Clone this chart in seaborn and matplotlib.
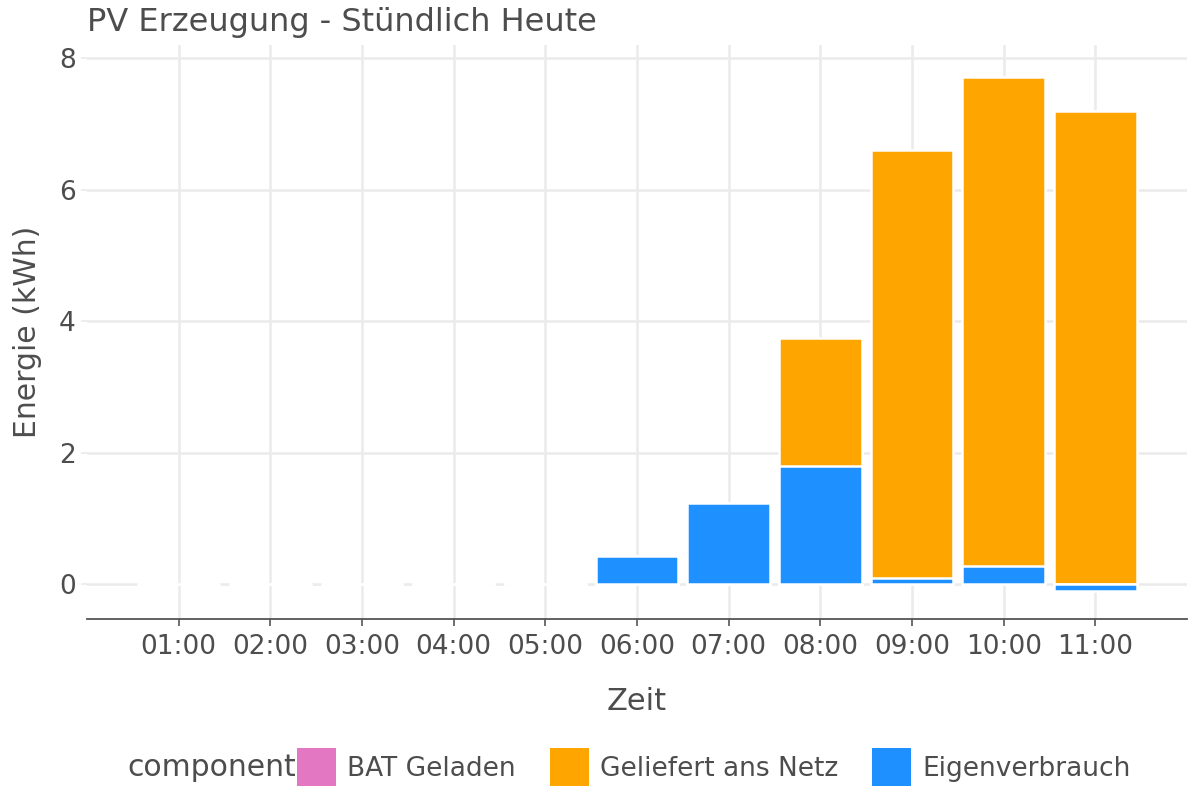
import matplotlib
matplotlib.use("Agg")
import matplotlib.pyplot as plt
import matplotlib.patches as mpatches
import seaborn as sns
import pandas as pd
import numpy as np

hours = ["01:00", "02:00", "03:00", "04:00", "05:00", "06:00",
         "07:00", "08:00", "09:00", "10:00", "11:00"]
bat_geladen = [0, 0, 0, 0, 0, 0, 0, 0, 0, 0, 0]
geliefert = [0, 0, 0, 0, 0, 0, 0, 1.94, 6.52, 7.44, 7.19]
eigenverbrauch = [0, 0, 0, 0, 0, 0.43, 1.24, 1.80, 0.09, 0.27, -0.11]

components = ["BAT Geladen", "Geliefert ans Netz", "Eigenverbrauch"]
colors = {"BAT Geladen": "#E377C2", "Geliefert ans Netz": "#FFA500",
          "Eigenverbrauch": "#1E90FF"}

TXT = "#4D4D4D"

sns.set_theme(style="white")
plt.rcParams['font.family'] = ['DejaVu Sans']

df = pd.DataFrame({"Zeit": hours, "bat": bat_geladen, "gel": geliefert,
                   "eig": eigenverbrauch})
eig_pos = np.clip(np.array(eigenverbrauch), 0, None)
df["top"] = eig_pos + np.array(geliefert)

fig = plt.figure(figsize=(12, 8), dpi=100)
ax = fig.add_axes([87/1200, 1 - 619/800, 1100/1200, (619-45)/800])
ax.set_axisbelow(True)

# stacked: orange total first, then blue segment drawn over its base
sns.barplot(data=df, x="Zeit", y="top", order=hours, color=colors["Geliefert ans Netz"],
            saturation=1, width=0.9, edgecolor="white", linewidth=1.8, ax=ax, zorder=2)
sns.barplot(data=df, x="Zeit", y="eig", order=hours, color=colors["Eigenverbrauch"],
            saturation=1, width=0.9, edgecolor="white", linewidth=1.8, ax=ax, zorder=3)

ax.set_xlim(-1, 11)
ax.set_ylim(-0.53, 8.2)
ax.set_yticks([0, 2, 4, 6, 8])
ax.set_yticklabels(["0", "2", "4", "6", "8"])
ax.grid(True, which="major", axis="both", color="#EBEBEB", linewidth=1.8, zorder=0)
for s in ["left", "right", "top"]:
    ax.spines[s].set_visible(False)
ax.spines["bottom"].set_color("#555555")
ax.spines["bottom"].set_linewidth(1.3)
ax.tick_params(axis="x", colors=TXT, labelsize=19, length=5, width=1.2,
               direction="out", pad=6, color="#555555", bottom=True)
ax.tick_params(axis="y", colors=TXT, labelsize=19, length=4, color="#EBEBEB", pad=4, left=True)
ax.set_xlabel("Zeit", fontsize=22, color=TXT, labelpad=19)
ax.set_ylabel("Energie (kWh)", fontsize=21.5, color=TXT, labelpad=12)

fig.text(87/1200, 1 - 23/800, "PV Erzeugung - Stündlich Heute", fontsize=23,
         color=TXT, ha="left", va="center")

handles = [mpatches.Patch(facecolor=colors[c], edgecolor="none") for c in components]
fig.text(127/1200, 1 - 767/800, "component", fontsize=21.5, color=TXT,
         ha="left", va="center")
leg = fig.legend(handles, components, ncol=3, loc="center left",
                 bbox_to_anchor=(297/1200, 1 - 767/800), frameon=False,
                 fontsize=19, handlelength=1.48, handleheight=1.8,
                 handletextpad=0.42, columnspacing=1.29, borderpad=0,
                 borderaxespad=0)
for t in leg.get_texts():
    t.set_color(TXT)

fig.savefig("out.png", dpi=100, facecolor="white")
